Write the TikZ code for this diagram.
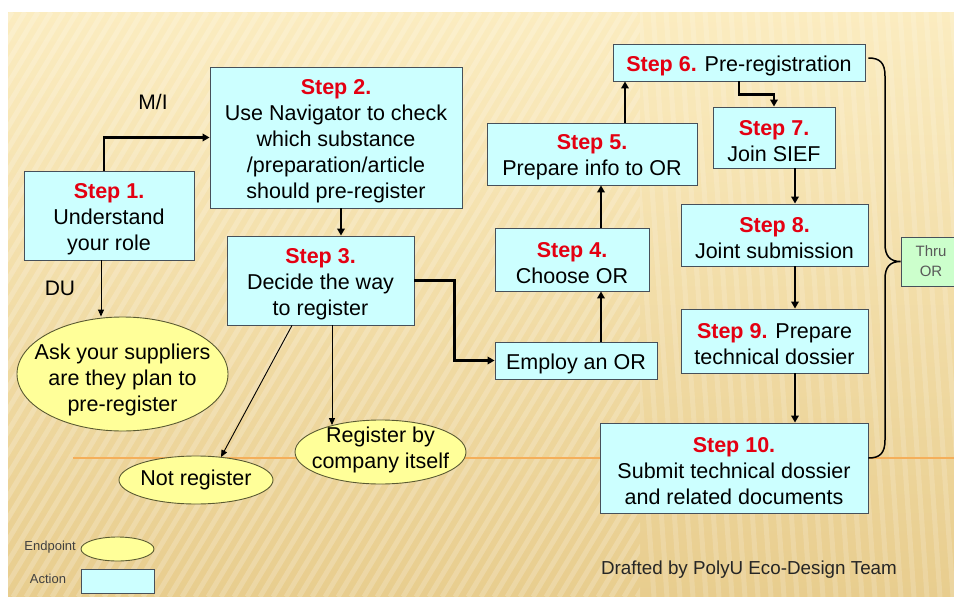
\documentclass[tikz,border=0pt]{standalone}
\usepackage{fontspec}
\setmainfont{Liberation Sans}
\usetikzlibrary{shapes.geometric,arrows.meta,calc}
\definecolor{bgtop}{RGB}{251,236,192}
\definecolor{bgbot}{RGB}{232,205,142}
\definecolor{cyanfill}{RGB}{204,255,255}
\definecolor{yelfill}{RGB}{255,255,153}
\definecolor{greenfill}{RGB}{204,255,204}
\definecolor{boxline}{RGB}{70,80,90}
\definecolor{ellline}{RGB}{90,90,50}
\definecolor{stepred}{RGB}{228,0,18}
\definecolor{orangeline}{RGB}{245,175,90}
\newcommand{\stp}[1]{\textcolor{stepred}{\bfseries #1}}
\newcommand{\topstrut}{\rule{0pt}{21.5pt}}
\begin{document}
\begin{tikzpicture}[x=1pt,y=-1pt,
  stepbox/.style={draw=boxline, fill=cyanfill, line width=0.9pt, inner sep=0pt, align=center, font=\fontsize{21.5}{26}\selectfont, text=black},
  endp/.style={ellipse, draw=ellline, fill=yelfill, line width=0.9pt, inner sep=0pt},
  etext/.style={align=center, font=\fontsize{21.5}{26}\selectfont, inner sep=0pt},
  flow/.style={line width=2.2pt, -{Triangle[length=7pt,width=7.5pt]}},
  thinflow/.style={line width=0.9pt, -{Triangle[length=7pt,width=6pt]}},
  legtext/.style={font=\fontsize{13}{15}\selectfont, text=black!75, inner sep=0pt},
  bigtext/.style={font=\fontsize{21}{24}\selectfont, inner sep=0pt},
  brace/.style={line width=1.5pt}]
\useasboundingbox (0,0) rectangle (954,597);
\fill[white] (0,0) rectangle (954,597);
\shade[top color=bgtop,bottom color=bgbot] (8,12) rectangle (954,597);
\begin{scope}
  \clip (8,12) rectangle (640,597);
  \foreach \i in {-30,...,50} \draw[white,opacity=0.2,line width=5pt] ({\i*13},597) -- ({\i*13+350},12);
\end{scope}
\begin{scope}
  \clip (640,12) rectangle (954,597);
  \foreach \i in {-2,...,25} \draw[white,opacity=0.16,line width=5pt] ({640+\i*13},12) -- ({640+\i*13+40},597);
\end{scope}
\draw[orangeline, line width=1.2pt] (73,458) -- (954,458);

% action boxes
\node[stepbox, minimum width=170, minimum height=89] (s1) at (109,215.5) {\topstrut\stp{Step 1.}\\Understand\\your role};
\node[stepbox, minimum width=252, minimum height=141] (s2) at (336,137.5) {\topstrut\stp{Step 2.}\\Use Navigator to check\\which substance\\/preparation/article\\should pre-register};
\node[stepbox, minimum width=187, minimum height=89] (s3) at (320.5,280.5) {\topstrut\stp{Step 3.}\\Decide the way\\to register};
\node[stepbox, minimum width=162, minimum height=37] (emp) at (576,360.5) {\topstrut Employ an OR};
\node[stepbox, minimum width=154, minimum height=63] (s4) at (572,259.5) {\topstrut\stp{Step 4.}\\Choose OR};
\node[stepbox, minimum width=210, minimum height=62] (s5) at (592,154) {\topstrut\stp{Step 5.}\\Prepare info to OR};
\node[stepbox, minimum width=252, minimum height=37] (s6) at (739,62.5) {\topstrut\stp{Step 6.} Pre-registration};
\node[stepbox, minimum width=122, minimum height=61] (s7) at (774,137.5) {\topstrut\stp{Step 7.}\\Join SIEF};
\node[stepbox, minimum width=187, minimum height=62] (s8) at (774.5,235) {\topstrut\stp{Step 8.}\\Joint submission};
\node[stepbox, minimum width=187, minimum height=64] (s9) at (774.5,341) {\topstrut\stp{Step 9.} Prepare\\technical dossier};
\node[stepbox, minimum width=268, minimum height=90] (s10) at (734,468) {\topstrut\stp{Step 10.}\\Submit technical dossier\\and related documents};
\node[stepbox, fill=greenfill, minimum width=60, minimum height=49, font=\fontsize{15}{20}\selectfont, text=black!65] (thru) at (931,261.5) {Thru\\OR};

% endpoints
\node[endp, minimum width=211, minimum height=114] (ask) at (122.5,374) {};
\node[etext] (askt) at (122.5,380) {Ask your suppliers\\are they plan to\\pre-register};
\node[endp, minimum width=154, minimum height=48] (notreg) at (196,480) {};
\node[etext] (notregt) at (196,479.5) {Not register};
\node[endp, minimum width=171, minimum height=64] (regco) at (380.5,452) {};
\node[etext] (regcot) at (380.5,449.5) {Register by\\company itself};

% labels
\node[bigtext] (mi) at (153,102) {M/I};
\node[bigtext] (du) at (60,288) {DU};
\node[font=\fontsize{18.8}{22}\selectfont, text=black!85, inner sep=0pt] (draft) at (749,570) {Drafted by PolyU Eco-Design Team};

% legend
\node[endp, minimum width=73, minimum height=24] (lege) at (117.5,549) {};
\node[stepbox, minimum width=73, minimum height=24] (lega) at (117.5,581) {};
\node[legtext, anchor=east] (legetxt) at (76,547) {Endpoint};
\node[legtext] (legatxt) at (48,579) {Action};

% connectors
\draw[flow] ([xshift=-5pt]s1.north) |- (s2.west);
\draw[flow] ([xshift=5pt]s2.south) -- ([xshift=5pt]s2.south |- s3.north);
\draw[thinflow] ([xshift=-8pt]s1.south) -- ([xshift=-8pt]s1.south |- ask.north);
\draw[thinflow] ([xshift=-28.5pt]s3.south) -- ([xshift=25pt,yshift=-1.5pt]notreg.north);
\draw[thinflow] ([xshift=11.5pt]s3.south) -- ([xshift=-48.5pt,yshift=-5.5pt]regco.north);
\draw[flow] (s3.east) -- ++(40,0) |- (emp.west);
\draw[flow] ([xshift=25pt]emp.north) -- ([xshift=25pt]emp.north |- s4.south);
\draw[flow] ([xshift=29pt]s4.north) -- ([xshift=29pt]s4.north |- s5.south);
\draw[flow] ([xshift=33pt]s5.north) -- ([xshift=33pt]s5.north |- s6.south);
\draw[flow] (s6.south) -- ++(0,13) -| (s7.north);
\draw[flow] ([xshift=21pt]s7.south) -- ([xshift=21pt]s7.south |- s8.north);
\draw[flow] ([xshift=20.5pt]s8.south) -- ([xshift=20.5pt]s8.south |- s9.north);
\draw[flow] ([xshift=20.5pt]s9.south) -- ([xshift=20.5pt]s9.south |- s10.north);

% brace
\coordinate (bt) at ([xshift=3pt,yshift=4.5pt]s6.east);
\coordinate (bb) at ([yshift=10pt]s10.east);
\draw[brace] (bt) .. controls (880,58) and (885,63) .. (885,76) -- (885,244)
  .. controls (885,256) and (890,261.5) .. (thru.west)
  .. controls (890,261.5) and (885,267) .. (885,279) -- (885,440)
  .. controls (885,453) and (880,458) .. (bb);
\end{tikzpicture}
\end{document}
